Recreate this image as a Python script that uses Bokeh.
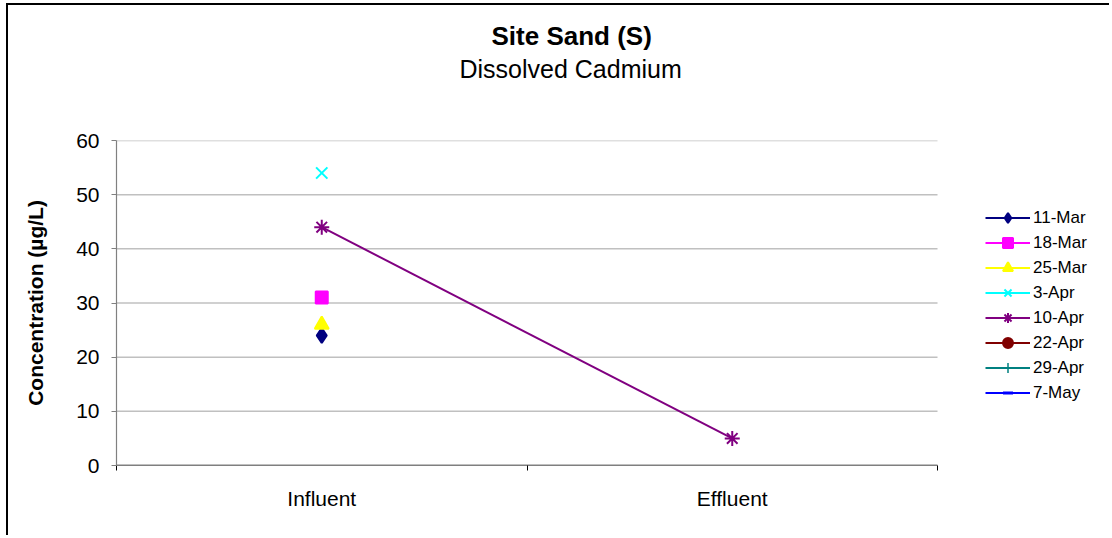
from bokeh.plotting import figure
from bokeh.models import Range1d, FixedTicker, Legend, Title
from bokeh.embed import file_html
from bokeh.resources import INLINE

nan = float("nan")

categories = ["Influent", "Effluent"]
series_names = ["11-Mar", "18-Mar", "25-Mar", "3-Apr", "10-Apr", "22-Apr", "29-Apr", "7-May"]
v_11mar = [24, nan]
v_18mar = [31, nan]
v_25mar = [26, nan]
v_3apr = [54, nan]
v_10apr = [44, 5]
v_22apr = [nan, nan]
v_29apr = [nan, nan]
v_7may = [nan, nan]
y_ticks = [0, 10, 20, 30, 40, 50, 60]

series_values = [v_11mar, v_18mar, v_25mar, v_3apr, v_10apr, v_22apr, v_29apr, v_7may]
colors = ["#000080", "#FF00FF", "#FFFF00", "#00FFFF", "#800080", "#800000", "#008080", "#0000FF"]
markers = ["diamond", "square", "triangle", "x", "asterisk", "circle", "cross", "dash"]
sizes = [15, 12, 14, 16, 15, 12, 14, 8]

FONT = "Liberation Sans"

W, H = 1103, 532
FL, FR, FT, FB = 108, 929, 135, 460  # plot area (axes box) in canvas pixels
n_cat = len(categories)
# the frame extends to the right canvas edge so the legend can live inside it;
# the data range is stretched so that the category axis still ends at FR
x_end = n_cat * (W - FL) / (FR - FL)

p = figure(width=W, height=H, output_backend="svg", toolbar_location=None,
           x_range=Range1d(0, x_end), y_range=Range1d(y_ticks[0], y_ticks[-1]),
           min_border_left=FL, min_border_right=0, min_border_top=FT,
           min_border_bottom=H - FB)
p.outline_line_color = None
p.background_fill_color = "white"
p.border_fill_color = "white"
p.styles = {"margin-left": "6px", "margin-top": "3px",
            "border-left": "2px solid #000000", "border-top": "2px solid #000000"}

xs = [i + 0.5 for i in range(n_cat)]

# horizontal gridlines and category axis line, limited to the category span
grid_y = y_ticks[1:]
p.segment(x0=[0] * len(grid_y), x1=[n_cat] * len(grid_y), y0=grid_y, y1=grid_y,
          line_color="#C0C0C0", line_width=1.5)
p.segment(x0=[0], x1=[n_cat], y0=[y_ticks[0]], y1=[y_ticks[0]],
          line_color="#000000", line_width=1.5)

items = []
for name, vals, c, m, s in zip(series_names, series_values, colors, markers, sizes):
    r1 = p.line(xs, vals, line_color=c, line_width=2)
    kw = dict(marker=m, size=s, line_color=c, fill_color=c, line_width=2)
    if m == "dash":
        kw["line_width"] = 3
    if m == "cross":
        kw["line_width"] = 1.5
    r2 = p.scatter(xs, vals, **kw)
    items.append((name, [r1, r2]))

legend = Legend(items=items, location=(977 - FL, FB - 400), padding=0, margin=0,
                border_line_color=None, background_fill_alpha=0,
                glyph_width=45, glyph_height=25, spacing=0, label_standoff=3,
                label_text_font=FONT, label_text_font_size="17px",
                label_text_baseline="middle", label_text_color="#000000")
p.add_layout(legend, "center")

# axes
p.xaxis.ticker = FixedTicker(ticks=xs, minor_ticks=list(range(n_cat + 1)))
p.xaxis.major_label_overrides = {x: c for x, c in zip(xs, categories)}
p.xaxis.major_tick_line_color = None
p.xaxis.minor_tick_line_color = "#000000"
p.xaxis.minor_tick_out = 5
p.xaxis.minor_tick_in = 0
p.xaxis.axis_line_color = None
p.xaxis.major_label_standoff = 15
p.xaxis.major_label_text_font = FONT
p.xaxis.major_label_text_font_size = "21px"
p.xaxis.major_label_text_color = "#000000"

p.yaxis.ticker = FixedTicker(ticks=y_ticks, minor_ticks=[])
p.yaxis.axis_line_color = "#808080"
p.yaxis.axis_line_width = 1.2
p.yaxis.major_tick_line_color = "#808080"
p.yaxis.major_tick_out = 5
p.yaxis.major_tick_in = 0
p.yaxis.major_label_standoff = 12
p.yaxis.major_label_text_font = FONT
p.yaxis.major_label_text_font_size = "21px"
p.yaxis.major_label_text_color = "#000000"
p.yaxis.axis_label = "Concentration (µg/L)"
p.yaxis.axis_label_text_font = FONT
p.yaxis.axis_label_text_font_size = "21px"
p.yaxis.axis_label_text_font_style = "bold"
p.yaxis.axis_label_text_color = "#000000"
p.yaxis.axis_label_standoff = 26

p.xgrid.grid_line_color = None
p.ygrid.grid_line_color = None

# titles: spacer (nearest the frame), subtitle, main title
p.add_layout(Title(text=" ", text_font_size="1px", standoff=53), "above")
p.add_layout(Title(text="Dissolved Cadmium", text_font=FONT, text_font_size="25px",
                   text_font_style="normal", text_color="#000000",
                   align="left", offset=343, standoff=4, vertical_align="bottom"), "above")
p.add_layout(Title(text="Site Sand (S)", text_font=FONT, text_font_size="26px",
                   text_font_style="bold", text_color="#000000",
                   align="left", offset=375, standoff=0, vertical_align="bottom"), "above")

open("out.html", "w").write(file_html(p, INLINE))
